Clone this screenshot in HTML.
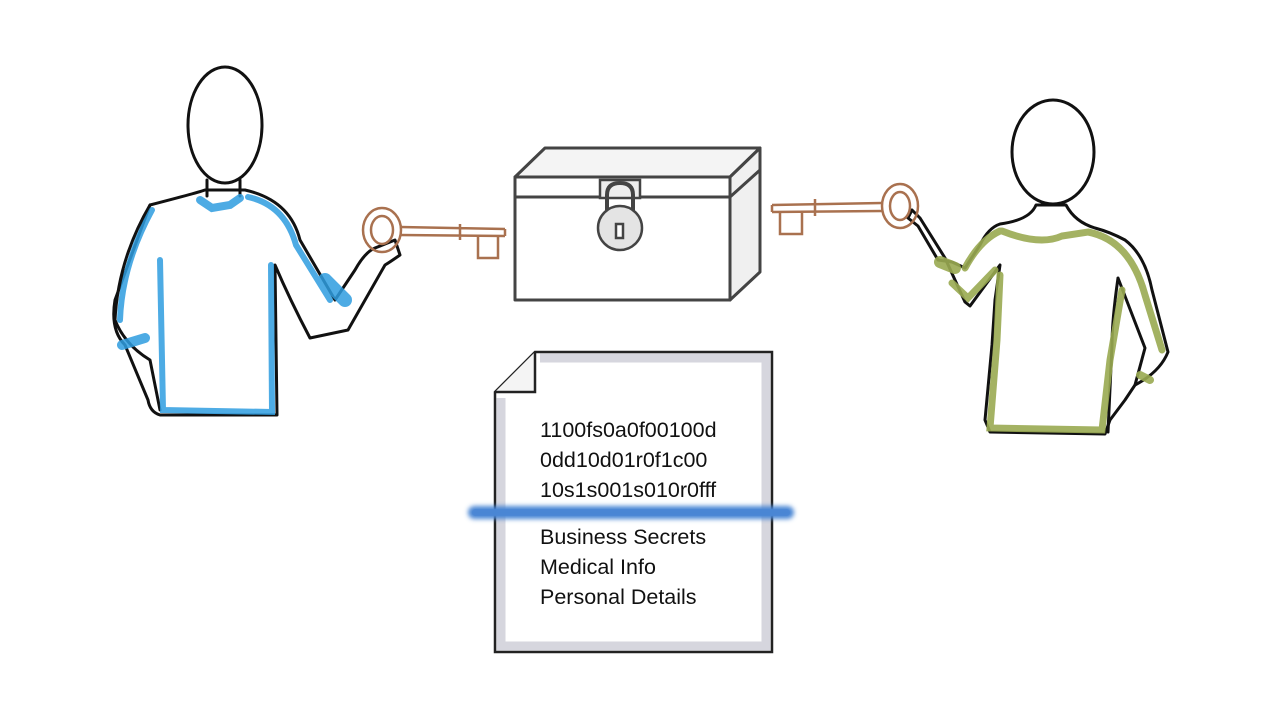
<!DOCTYPE html>
<html><head><meta charset="utf-8"><style>
html,body{margin:0;padding:0;background:#fff;width:1280px;height:720px;overflow:hidden}
svg{display:block}
text{font-family:"Liberation Sans",sans-serif;font-size:21.5px;fill:#111}
</style></head><body>
<svg width="1280" height="720" viewBox="0 0 1280 720" xmlns="http://www.w3.org/2000/svg">
<defs><filter id="bl" filterUnits="userSpaceOnUse" x="440" y="480" width="380" height="70"><feGaussianBlur stdDeviation="2.5"/></filter></defs>
<!-- LEFT MAN -->
<g stroke="#111" stroke-width="3" fill="#fff" stroke-linejoin="round" stroke-linecap="round">
<path d="M150,205 Q200,192 205,190 L245,190 Q290,200 300,240 L335,300 L355,270 Q365,252 375,248 L395,240 L400,255 Q390,262 385,265 L348,330 L310,338 Q290,300 275,265 L277,415 L160,415 Q150,412 148,400 L125,345 Q110,330 115,300 Z" fill="#fff"/>
<path d="M150,205 Q118,260 115,320 Q125,345 150,360 L160,410" fill="none"/>
<ellipse cx="225" cy="125" rx="37" ry="58"/>
<path d="M207,180 L207,196 M240,180 L240,196" fill="none"/>
</g>
<g stroke="#2f9de0" stroke-width="6" fill="none" stroke-linecap="round" opacity=".85">
<path d="M152,210 Q122,265 120,320"/><path d="M160,260 L163,410 L272,412 L271,265"/>
<path d="M248,197 Q285,205 296,245 L330,300"/><path d="M325,280 L345,300" stroke-width="14"/>
<path d="M122,345 L145,338" stroke-width="10"/><path d="M200,200 L212,208 L230,205 L240,198" stroke-width="8"/>
</g>
<!-- LEFT KEY -->
<g stroke="#a9714f" stroke-width="2.5" fill="none">
<ellipse cx="382" cy="230" rx="19" ry="22"/><ellipse cx="382" cy="230" rx="11" ry="14"/>
<path d="M400,227 L505,229 M400,235 L505,236 M460,224 L460,240 M505,229 L505,236"/>
<path d="M478,236 L478,258 L498,258 L498,236"/>
</g>
<!-- CHEST -->
<g stroke="#444" stroke-width="3" fill="#fff" stroke-linejoin="round">
<path d="M515,177 L545,148 L760,148 L730,177 Z" fill="#f4f4f4"/>
<path d="M730,177 L760,148 L760,272 L730,300 Z" fill="#f0f0f0"/>
<rect x="515" y="177" width="215" height="123"/>
<path d="M515,197 L730,197 M730,197 L760,170" fill="none"/>
</g>
<g stroke="#444" stroke-width="2.5"><rect x="600" y="180" width="40" height="18" fill="#eee"/>
<path d="M607,222 L607,195 Q607,183 620,183 Q633,183 633,195 L633,222" fill="none" stroke-width="4"/>
<circle cx="620" cy="228" r="22" fill="#e4e4e4"/><rect x="616" y="224" width="7" height="14" fill="#fff"/></g>
<!-- RIGHT WOMAN -->
<g stroke="#111" stroke-width="3" fill="#fff" stroke-linejoin="round" stroke-linecap="round">
<path d="M1036,205 Q1030,220 1000,224 Q988,228 980,245 L965,268 L952,262 L938,260 L918,226 L908,218 L912,210 L920,218 L945,258 L965,302 L970,306 L1000,265 L995,300 L992,345 L985,420 L990,432 L1105,434 L1110,420 L1125,400 L1135,385 Q1160,372 1168,352 L1152,290 Q1145,255 1125,240 Q1110,232 1095,228 Q1075,222 1066,205 Z"/>
<path d="M1118,278 L1145,348 L1135,385 M1118,278 Q1112,320 1112,345 L1108,432" fill="none"/>
<ellipse cx="1053" cy="152" rx="41" ry="52"/>
</g>
<g stroke="#9aaa52" stroke-width="7" fill="none" stroke-linecap="round" opacity=".9">
<path d="M1002,231 Q1040,246 1062,236 L1088,232 Q1130,240 1145,295 L1162,350"/>
<path d="M1000,275 L997,340 L990,428 L1102,430 L1110,360 L1122,290"/>
<path d="M965,268 Q980,240 1000,231"/><path d="M940,262 L955,268" stroke-width="12"/><path d="M952,283 L968,298 L995,270"/>
<path d="M1140,375 L1150,380" stroke-width="8"/>
</g>
<!-- RIGHT KEY -->
<g stroke="#a9714f" stroke-width="2.5" fill="none">
<ellipse cx="900" cy="206" rx="18" ry="22"/><ellipse cx="900" cy="206" rx="10" ry="14"/>
<path d="M882,203 L772,205 M882,211 L772,212 M815,199 L815,216 M772,205 L772,212"/>
<path d="M780,212 L780,234 L802,234 L802,212"/>
</g>
<!-- DOCUMENT -->
<path d="M535,352 L772,352 L772,652 L495,652 L495,392 Z" fill="#fff" stroke="#222" stroke-width="2.5"/>
<path d="M540,358 L766,358 L766,646 L501,646 L501,398" fill="none" stroke="#d6d6de" stroke-width="9"/>
<path d="M495,392 L535,392 L535,352" fill="#f4f4f4" stroke="#222" stroke-width="2.5"/>
<text x="540" y="437">1100fs0a0f00100d</text>
<text x="540" y="467">0dd10d01r0f1c00</text>
<text x="540" y="497">10s1s001s010r0fff</text>
<rect x="468" y="506" width="326" height="13" rx="6.5" fill="#4a86d4" filter="url(#bl)"/>
<rect x="472" y="509" width="318" height="7" rx="3.5" fill="#4a86d4" opacity=".7"/>
<text x="540" y="544">Business Secrets</text>
<text x="540" y="574">Medical Info</text>
<text x="540" y="604">Personal Details</text>
</svg>
</body></html>
